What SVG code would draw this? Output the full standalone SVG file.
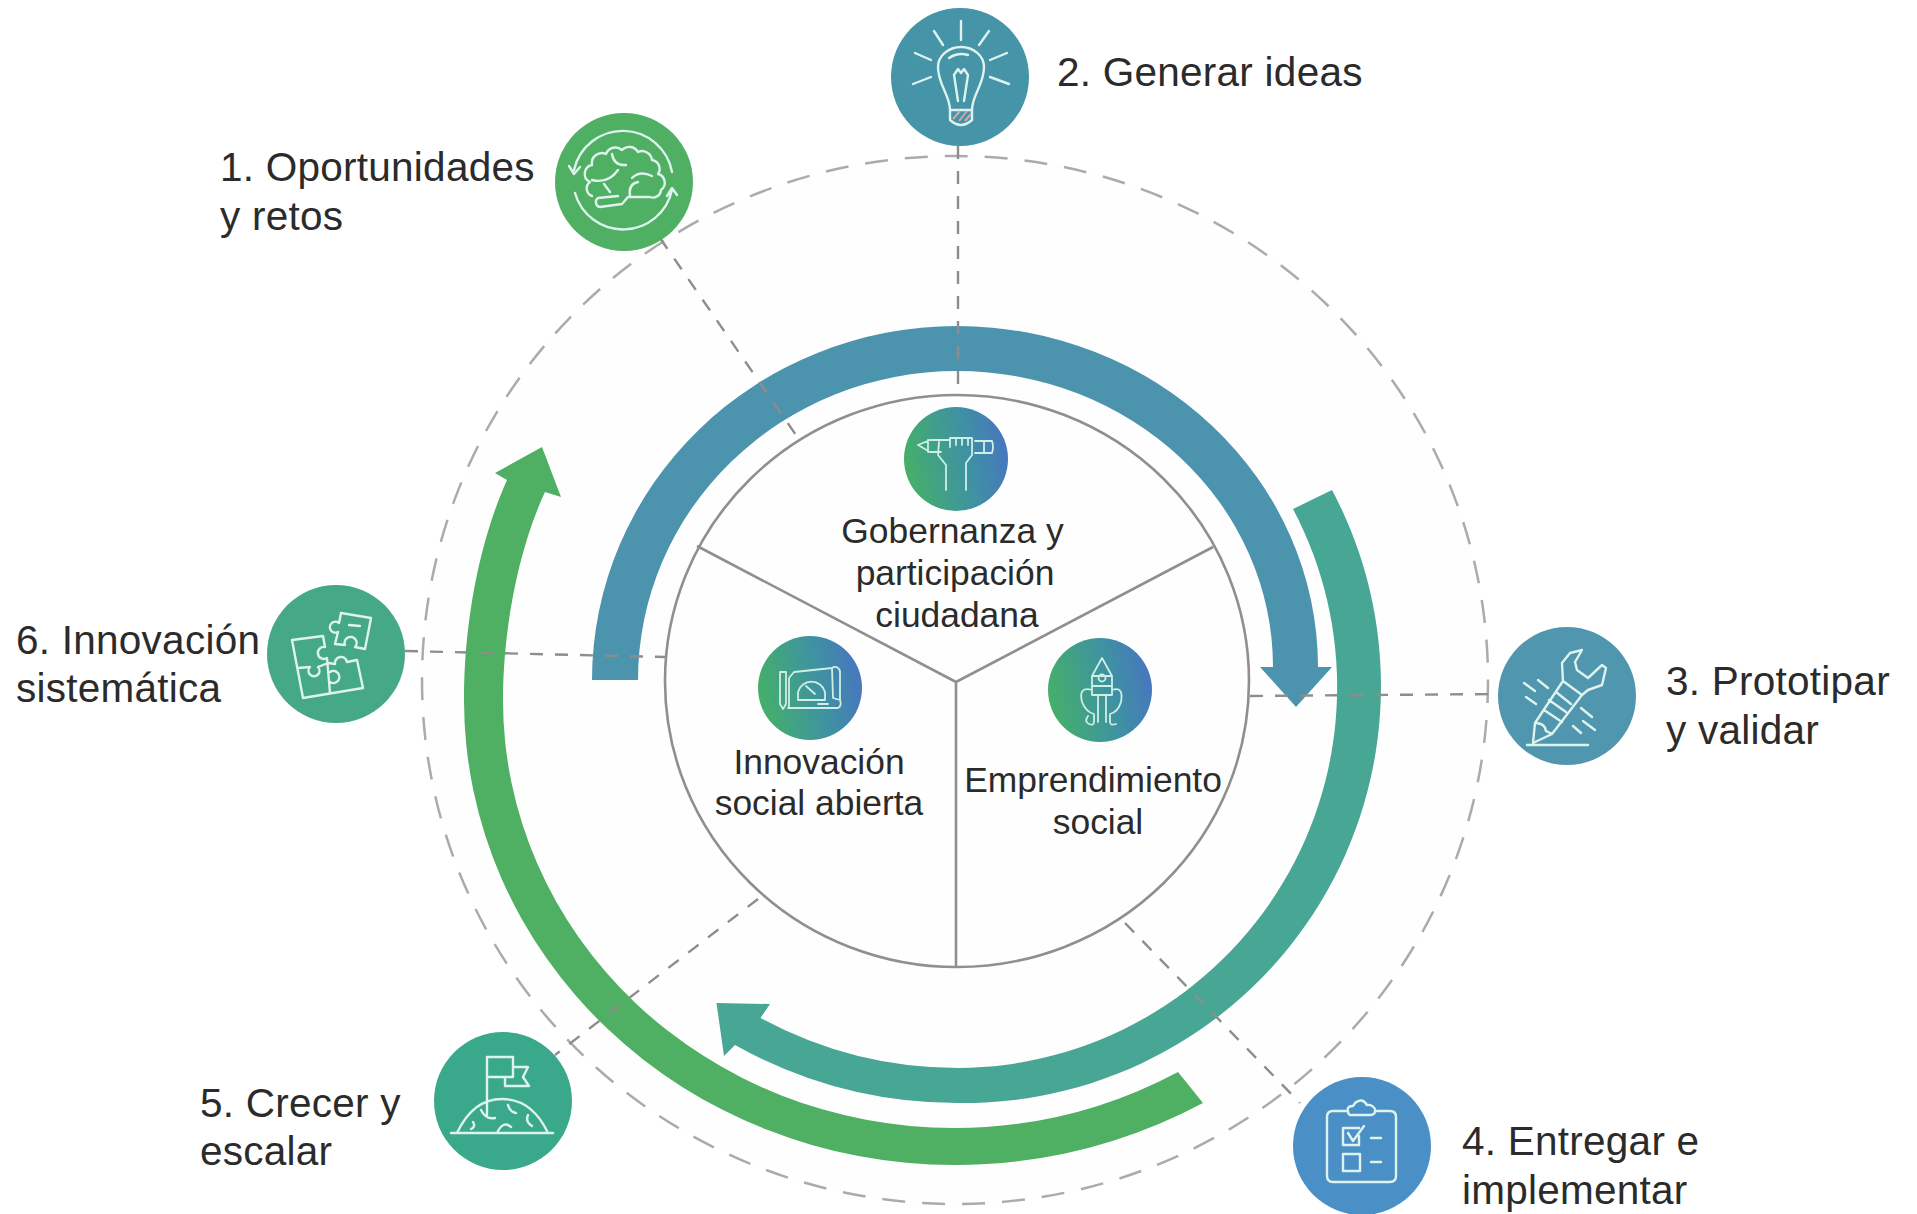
<svg xmlns="http://www.w3.org/2000/svg" width="1917" height="1214" viewBox="0 0 1917 1214">
<style>
text{font-family:"Liberation Sans",Arial,sans-serif;fill:#2b2b2b}
.o{font-size:40.5px;letter-spacing:.25px}
.i{font-size:35.4px;text-anchor:middle}
.ic{fill:none;stroke:#def3ee;stroke-width:2.4;stroke-linecap:round;stroke-linejoin:round}
.ii{fill:none;stroke:#cfeee6;stroke-width:1.8;stroke-linecap:round;stroke-linejoin:round}
.d{fill:none;stroke:#8d8d8d;stroke-width:2.4;stroke-dasharray:13 12}
.w{fill:none;stroke:#8f8f8f;stroke-width:2.6}
</style>
<defs>
<linearGradient id="g" x1="0" y1="0.6" x2="1" y2="0.4"><stop offset="0" stop-color="#45b068"/><stop offset="0.6" stop-color="#3e92a2"/><stop offset="1" stop-color="#4876bf"/></linearGradient>
</defs>
<rect width="1917" height="1214" fill="#fff"/>
<ellipse id="orbit" cx="955" cy="680" rx="533" ry="524" fill="#fefefe" stroke="#ababab" stroke-width="2.5" stroke-dasharray="23 17"/>
<g id="cycle">
<path id="arc-blue" fill="#4c94ae" d="M592,680 A365,354 0 0 1 957,326 A361,341 0 0 1 1318,667 L1332,667 L1296,707 L1260,667 L1273,667 A316,296 0 0 0 957,371 A319,309 0 0 0 638,680 Z"/>
<path id="arc-teal" fill="#48a695" d="M1332,490 A417,417 0 0 1 958,1103 A457,457 0 0 1 735,1045 L724,1056 L716.5,1003 L770,1004 L760.5,1018 A415,415 0 0 0 958,1068 A381,381 0 0 0 1293,509 Z"/>
<path id="arc-green" fill="#4faf62" d="M1203,1103 A531,531 0 0 1 954,1165 A490,465 0 0 1 464,700 C464,620 480,540 507,480 L495,473 L542,447 L561,497 L545,492 C518,550 503,630 503,700 A451,428 0 0 0 954,1128 A476,476 0 0 0 1178,1072 Z"/>
</g>
<g id="connectors">
<line class="d" x1="958" y1="146" x2="958" y2="395"/>
<line class="d" x1="405" y1="651" x2="665" y2="657"/>
<line class="d" x1="1250" y1="696" x2="1499" y2="694"/>
<line class="d" x1="660" y1="238" x2="798" y2="438"/>
<line class="d" x1="1125" y1="923" x2="1300" y2="1103"/>
<line class="d" x1="758" y1="899" x2="555" y2="1055"/>
</g>
<g id="wheel">
<ellipse class="w" cx="957" cy="681" rx="292" ry="286" fill="#fefefe"/>
<path class="w" d="M956,682 L697,546 M956,682 L1213,547 M956,682 L956,967"/>
</g>
<g id="node-1">
<circle cx="624" cy="182" r="69" fill="#4faf62"/>
<path class="ic" d="M574,170 A50,50 0 0 1 672,172 M569,166 L574,174 L580,167 M575,193 A50,50 0 0 0 672,190 M667,196 L672,188 L677,195"/>
<path class="ic" d="M592,196 A8,8 0 0 1 590,182 A9,9 0 0 1 592,165 A10,10 0 0 1 606,154 A10,10 0 0 1 622,150 A10,10 0 0 1 638,152 A10,10 0 0 1 652,160 A9,9 0 0 1 658,174 A9,9 0 0 1 661,190 A8,8 0 0 1 650,197 L628,197 L622,204 L600,207 A5,5 0 0 1 598,198 L618,196 M592,180 Q608,184 618,170 M612,154 Q614,166 626,165 M632,178 Q640,170 652,176 M630,196 Q628,184 638,182 M604,184 L610,192"/>
<text class="o" x="220" y="181">1. Oportunidades</text>
<text class="o" x="220" y="230">y retos</text>
</g>
<g id="node-2">
<circle cx="960" cy="77" r="69" fill="#4594a8"/>
<path class="ic" d="M961,21 L961,40 M934,31 L943,45 M989,31 L979,45 M915,53 L931,60 M1007,53 L990,60 M913,84 L931,77 M1009,84 L990,77"/>
<path class="ic" d="M950,110 C950,95 938,85 938,67 A23,20 0 0 1 984,67 C984,85 972,95 972,110 Z M950,110 L950,120 Q961,130 972,120 L972,110 M949,58 Q958,52 968,55 M954,75 L958,101 M968,75 L964,101 M954,75 L958,69 L961,73 L964,69 L968,75"/>
<path fill="none" stroke="#d8a9a4" stroke-width="2" d="M953,119 L960,111 M959,121 L967,111 M965,121 L971,114"/>
<text class="o" x="1057" y="86">2. Generar ideas</text>
</g>
<g id="node-3">
<circle cx="1567" cy="696" r="69" fill="#4f96ae"/>
<path class="ic" d="M1527,745 L1588,745 M1533,743 L1535,723 L1563,681 L1582,695 L1552,734 Z M1535,723 Q1545,723 1546,731 L1552,734 M1544,710 L1562,722 M1556,692 L1571,704 M1549,700 L1566,712 M1563,682 L1562,663 L1570,653 L1582,650 L1575,662 L1577,670 L1588,678 L1602,665 L1606,668 L1602,685 L1588,690 L1582,695 M1524,683 L1535,691 M1538,680 L1548,688 M1526,697 L1536,704 M1581,708 L1592,717 M1573,726 L1581,733 M1583,721 L1595,730"/>
<text class="o" x="1666" y="695">3. Prototipar</text>
<text class="o" x="1666" y="744">y validar</text>
</g>
<g id="node-4">
<circle cx="1362" cy="1146" r="69" fill="#4a90c6"/>
<path class="ic" d="M1348,1111 L1333,1111 Q1327,1111 1327,1117 L1327,1176 Q1327,1182 1333,1182 L1390,1182 Q1396,1182 1396,1176 L1396,1117 Q1396,1111 1390,1111 L1375,1111 M1348,1111 Q1348,1116 1353,1115 L1370,1115 Q1376,1115 1375,1109 Q1372,1104 1367,1105 Q1362,1097 1355,1103 Q1353,1107 1351,1106 Q1347,1107 1348,1111 Z M1359,1128 L1343,1128 L1343,1145 L1359,1145 L1359,1136 M1348,1133 L1353,1141 L1364,1126 M1371,1138 L1381,1138 M1343,1154 L1360,1154 L1360,1171 L1343,1171 Z M1371,1162 L1381,1162"/>
<text class="o" x="1462" y="1155">4. Entregar e</text>
<text class="o" x="1462" y="1204">implementar</text>
</g>
<g id="node-5">
<circle cx="503" cy="1101" r="69" fill="#3aa98b"/>
<path class="ic" d="M451,1133 L553,1133 M457,1133 Q473,1099 502,1099 Q532,1099 548,1133 M487,1115 L487,1057 L513,1057 L513,1077 L487,1077 M505,1077 L505,1086 L529,1086 L523,1077 L528,1067 L513,1067 M481,1110 Q486,1120 495,1118 M508,1105 Q510,1112 516,1113 M528,1115 Q525,1122 532,1126 M497,1133 Q503,1120 511,1127 M473,1122 Q476,1127 471,1129"/>
<text class="o" x="200" y="1117">5. Crecer y</text>
<text class="o" x="200" y="1165">escalar</text>
</g>
<g id="node-6">
<circle cx="336" cy="654" r="69" fill="#45a988"/>
<path class="ic" d="M292,640 L323,636 L325,647 A6,6 0 1 0 327,658 L330,693 M303,698 L363,688 L357,660 L347,662 A6,6 0 1 0 335,664 L328,663 L318,667 A5.5,5.5 0 1 1 310,667 L298,668 M292,640 L303,698 M330,672 A6,6 0 1 1 330,682 M341,613 L371,618 L365,649 L355,647 A6,6 0 1 0 345,645 L335,644 L338,632 A5.5,5.5 0 1 1 339,623 Z M349,625 L360,626"/>
<text class="o" x="16" y="654">6. Innovación</text>
<text class="o" x="16" y="702">sistemática</text>
</g>
<g id="inner-1">
<circle cx="956" cy="459" r="52" fill="url(#g)"/>
<path class="ii" d="M918,445 L930,440 L950,440 M918,445 L930,452 L941,452 M928,440 L928,452 M975,441 L992,441 Q994,447 992,453 L975,453 M984,441 L984,453 M946,490 L946,465 L938,455 L939,442 M966,490 L966,463 L972,455 L972,438 L950,438 L950,447 M956,438 L956,445 M962,438 L962,445 M968,438 L968,445"/>
<text class="i" x="952.5" y="543">Gobernanza y</text>
<text class="i" x="955" y="585">participación</text>
<text class="i" x="957" y="627">ciudadana</text>
</g>
<g id="inner-2">
<circle cx="810" cy="688" r="52" fill="url(#g)"/>
<path class="ii" d="M780,672 L786,672 L786,704 L783,709 L780,704 Z M788,708 L838,708 Q842,706 840,700 L840,672 A5,5 0 0 0 832,668 L794,672 L789,678 L789,708 M832,668 L833,698 L840,700 M798,692 A14,14 0 0 1 825,692 L825,700 L798,700 Z M806,686 L815,694 M818,704 L828,704"/>
<text class="i" x="819" y="774">Innovación</text>
<text class="i" x="819" y="815">social abierta</text>
</g>
<g id="inner-3">
<circle cx="1100" cy="690" r="52" fill="url(#g)"/>
<path class="ii" d="M1102,658 L1092,676 L1092,695 L1112,695 L1112,676 Z M1092,676 L1112,676 M1092,686 L1112,686 M1092,690 Q1078,686 1082,702 Q1086,712 1094,714 L1094,722 Q1094,726 1089,724 Q1084,722 1088,716 M1112,690 Q1124,686 1121,702 Q1118,712 1110,714 L1110,722 Q1110,726 1116,724 M1098,695 L1098,722 M1106,695 L1106,722"/>
<circle class="ii" cx="1102" cy="678" r="3.5"/>
<text class="i" x="1093" y="792">Emprendimiento</text>
<text class="i" x="1098" y="834">social</text>
</g>
</svg>
